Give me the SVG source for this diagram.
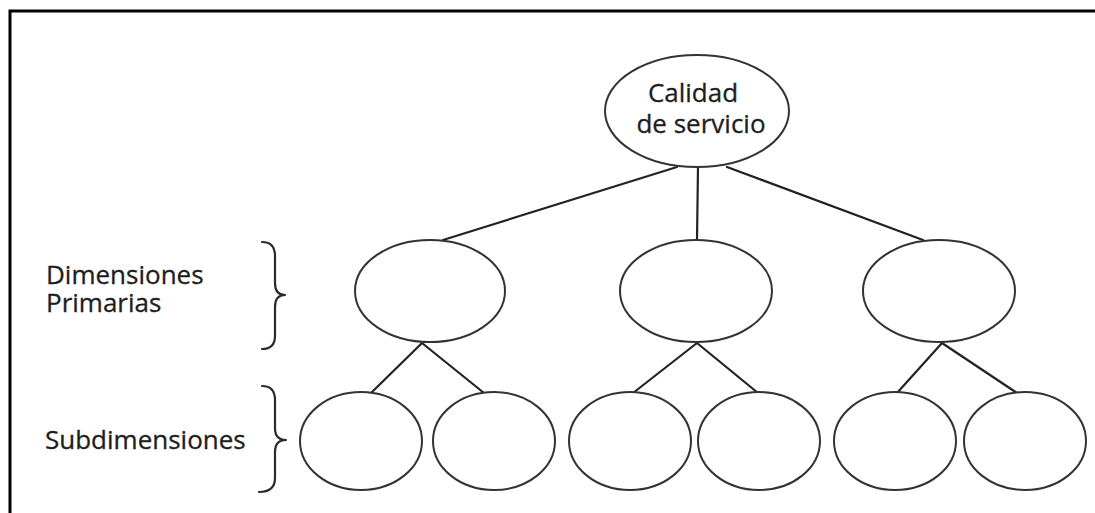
<svg xmlns="http://www.w3.org/2000/svg" width="1095" height="513" viewBox="0 0 1095 513">
  <style>
    .node { fill: #ffffff; stroke: #333333; stroke-width: 2; }
    .edge { stroke: #222222; stroke-width: 2.2; fill: none; stroke-linecap: round; }
    .brace { stroke: #2a2a2a; stroke-width: 2.2; fill: none; stroke-linecap: round; stroke-linejoin: round; }
    .label { font-family: "Open Sans", "Liberation Sans", sans-serif; font-size: 26px; fill: #1e1e1e; stroke: #1e1e1e; stroke-width: 0.3; }
  </style>

  <rect width="1095" height="513" fill="#ffffff"/>

  <!-- frame: top and left edges -->
  <path d="M 10 513 L 10 11 L 1095 11" fill="none" stroke="#000000" stroke-width="3"/>

  <!-- connectors -->
  <g id="connectors">
    <line class="edge" x1="677" y1="167" x2="443" y2="240"/>
    <line class="edge" x1="698" y1="167" x2="697" y2="240"/>
    <line class="edge" x1="727" y1="167" x2="923" y2="240"/>

    <line class="edge" x1="422" y1="343" x2="371" y2="393"/>
    <line class="edge" x1="422" y1="343" x2="484" y2="393"/>

    <line class="edge" x1="697" y1="343" x2="633" y2="393"/>
    <line class="edge" x1="697" y1="343" x2="758" y2="393"/>

    <line class="edge" x1="942" y1="343" x2="897" y2="393"/>
    <line class="edge" x1="942" y1="343" x2="1017" y2="393"/>
  </g>

  <!-- root -->
  <g id="calidad">
    <ellipse class="node" cx="697" cy="111" rx="92" ry="56"/>
    <text class="label" x="693" y="102" text-anchor="middle">Calidad</text>
    <text class="label" x="701" y="133" text-anchor="middle">de servicio</text>
  </g>

  <!-- primary dimensions -->
  <g id="primaria-1"><ellipse class="node" cx="430" cy="291" rx="75" ry="51"/></g>
  <g id="primaria-2"><ellipse class="node" cx="696" cy="291" rx="76" ry="51"/></g>
  <g id="primaria-3"><ellipse class="node" cx="939" cy="291" rx="76" ry="51"/></g>

  <!-- subdimensions -->
  <g id="sub-1"><ellipse class="node" cx="361" cy="441" rx="61" ry="49"/></g>
  <g id="sub-2"><ellipse class="node" cx="494" cy="441" rx="61" ry="49"/></g>
  <g id="sub-3"><ellipse class="node" cx="630" cy="441" rx="61" ry="49"/></g>
  <g id="sub-4"><ellipse class="node" cx="759" cy="441" rx="61" ry="49"/></g>
  <g id="sub-5"><ellipse class="node" cx="895" cy="441" rx="61" ry="49"/></g>
  <g id="sub-6"><ellipse class="node" cx="1025" cy="441" rx="61" ry="49"/></g>

  <!-- level labels and braces -->
  <g id="nivel-primarias">
    <text class="label" x="46" y="284">Dimensiones</text>
    <text class="label" x="46" y="312">Primarias</text>
    <path class="brace" d="M 262 242 Q 275 242 275 256 L 275 283 Q 275 295 285 295 Q 275 295 275 307 L 275 336 Q 275 349 262 349"/>
  </g>

  <g id="nivel-sub">
    <text class="label" x="45" y="449">Subdimensiones</text>
    <path class="brace" d="M 262 386 Q 275 386 275 400 L 275 428 Q 275 440 286 440 Q 275 440 275 452 L 275 478 Q 275 492 259 492"/>
  </g>
</svg>
